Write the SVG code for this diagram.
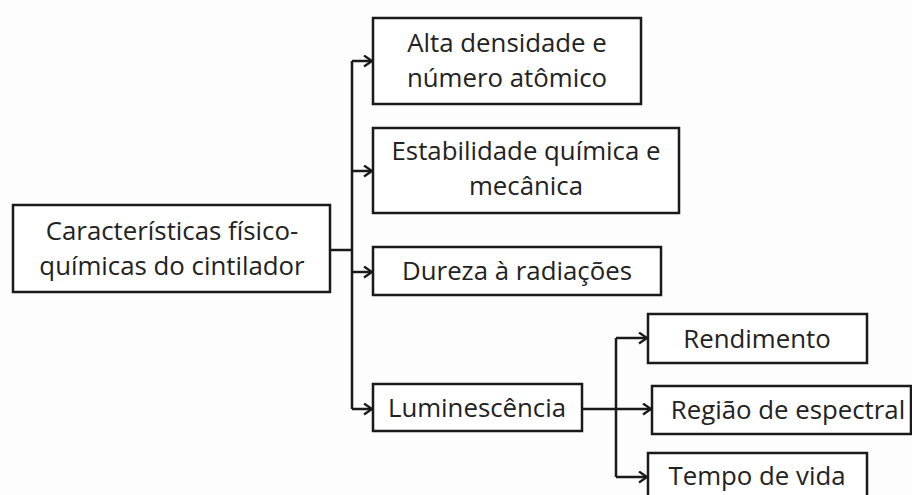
<svg xmlns="http://www.w3.org/2000/svg" width="912" height="495" viewBox="0 0 912 495">
<style>
.box{fill:#fff;stroke:#1a1a1a;stroke-width:2.5}
.t{font-family:"Open Sans","Liberation Sans",sans-serif;font-size:25.8px;fill:#222;text-anchor:middle}
.c{fill:none;stroke:#1a1a1a;stroke-width:2.5}
</style>
<defs>
<marker id="ah" markerUnits="userSpaceOnUse" markerWidth="12" markerHeight="14" refX="10" refY="6" orient="auto">
<path d="M2,0.5 L10,6 L2,11.5" fill="none" stroke="#1a1a1a" stroke-width="2.3"/>
</marker>
</defs>
<rect width="912" height="495" fill="#fdfdfd"/>
<g id="connectors">
<path class="c" d="M330,250 H352"/>
<path class="c" d="M352,61 V409"/>
<path class="c" d="M352,61 H372" marker-end="url(#ah)"/>
<path class="c" d="M352,171 H372" marker-end="url(#ah)"/>
<path class="c" d="M352,272 H372" marker-end="url(#ah)"/>
<path class="c" d="M352,409 H372" marker-end="url(#ah)"/>
<path class="c" d="M582,409 H616"/>
<path class="c" d="M616,338 V477"/>
<path class="c" d="M616,338 H647" marker-end="url(#ah)"/>
<path class="c" d="M616,409 H651" marker-end="url(#ah)"/>
<path class="c" d="M616,477 H647" marker-end="url(#ah)"/>
</g>
<g id="main">
<rect class="box" x="13" y="205" width="317" height="87"/>
<text class="t" x="172" y="240">Características físico-</text>
<text class="t" x="172" y="275">químicas do cintilador</text>
</g>
<g id="alta">
<rect class="box" x="373" y="18" width="268" height="86"/>
<text class="t" x="507" y="52">Alta densidade e</text>
<text class="t" x="507" y="87">número atômico</text>
</g>
<g id="estabilidade">
<rect class="box" x="373" y="128" width="306" height="85"/>
<text class="t" x="526" y="160">Estabilidade química e</text>
<text class="t" x="526" y="195">mecânica</text>
</g>
<g id="dureza">
<rect class="box" x="373" y="247" width="288" height="48"/>
<text class="t" x="517" y="280">Dureza à radiações</text>
</g>
<g id="luminescencia">
<rect class="box" x="373" y="384" width="209" height="47"/>
<text class="t" x="477" y="417">Luminescência</text>
</g>
<g id="rendimento">
<rect class="box" x="648" y="314" width="219" height="49"/>
<text class="t" x="757" y="348">Rendimento</text>
</g>
<g id="regiao">
<rect class="box" x="652" y="386" width="259" height="48"/>
<text class="t" x="788" y="419">Região de espectral</text>
</g>
<g id="tempo">
<rect class="box" x="648" y="453" width="219" height="50"/>
<text class="t" x="757" y="485">Tempo de vida</text>
</g>
</svg>
